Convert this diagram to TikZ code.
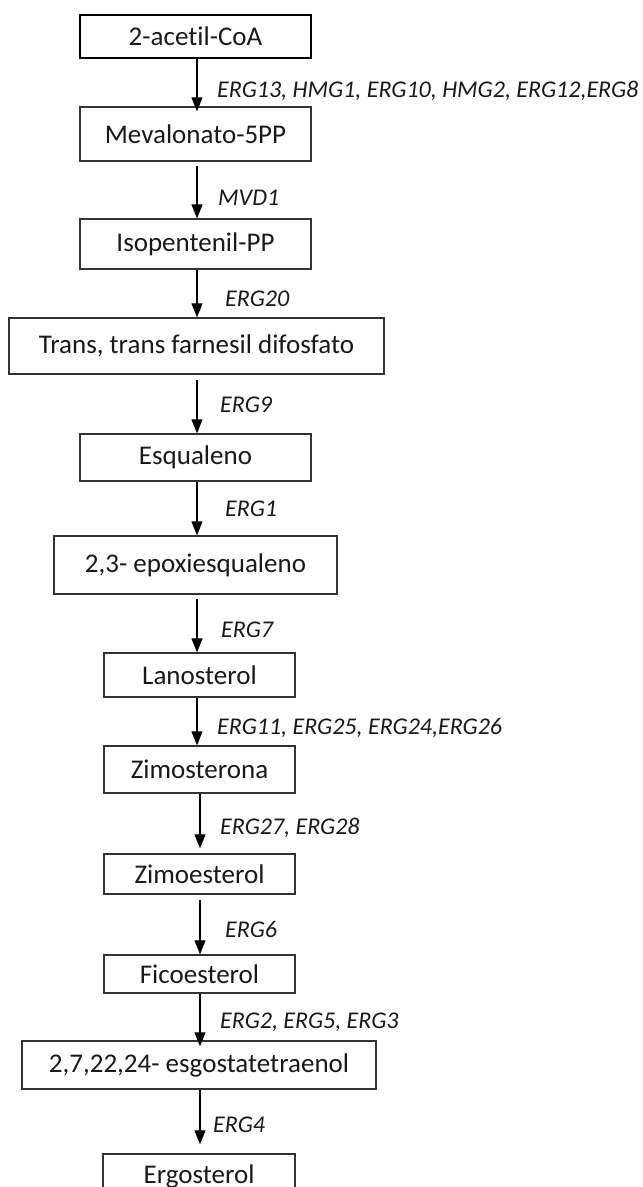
\documentclass[tikz,border=0pt]{standalone}
\usepackage{fontspec}
\setmainfont{Carlito}[Ligatures=NoCommon]
\usetikzlibrary{arrows.meta}
\begin{document}
\begin{tikzpicture}[x=1pt,y=-1pt,
  box/.style={draw=black!80, line width=1.3pt, minimum width=231pt, inner sep=0pt,
    font=\fontsize{27}{30}\selectfont, text=black!90},
  lab/.style={anchor=base west, inner sep=0pt,
    font=\fontsize{24}{27}\selectfont\itshape, text=black!90},
  arr/.style={-{Triangle[width=11pt,length=14pt]}, line width=1.1pt}]
\useasboundingbox (0,0) rectangle (643,1187);
\coordinate (xa) at (197,0);
\coordinate (xb) at (200,0);
% boxes
\node[box, draw=black, line width=2.2pt, minimum height=43pt] (b1) at (195.5,36.5) {2-acetil-CoA};
\node[box, minimum height=54pt] (b2) at (195.5,134) {Mevalonato-5PP};
\node[box, minimum height=50pt] (b3) at (195.5,244) {Isopentenil-PP};
\node[box, minimum width=375pt, minimum height=56pt] (b4) at (196.5,346) {Trans, trans farnesil difosfato};
\node[box, minimum height=47pt] (b5) at (195.5,457.5) {Esqualeno};
\node[box, minimum width=283pt, minimum height=58pt] (b6) at (195.5,565) {2,3- epoxiesqualeno};
\node[box, minimum width=191pt, minimum height=44pt] (b7) at (199.5,675) {Lanosterol};
\node[box, minimum width=191pt, minimum height=47pt] (b8) at (199.5,769.5) {Zimosterona};
\node[box, minimum width=191pt, minimum height=40pt] (b9) at (199.5,874) {Zimoesterol};
\node[box, minimum width=191pt, minimum height=38pt] (b10) at (199.5,974) {Ficoesterol};
\node[box, minimum width=354pt, minimum height=48pt] (b11) at (199,1065) {2,7,22,24- esgostatetraenol};
\node[box, minimum width=192pt, minimum height=44pt] (b12) at (199,1176) {Ergosterol};
% arrows
\draw[arr, shorten >=-5pt] (b1.south -| xa) -- (b2.north -| xa);
\draw[arr, shorten <=4pt] (b2.south -| xa) -- (b3.north -| xa);
\draw[arr] (b3.south -| xa) -- (b4.north -| xa);
\draw[arr, shorten <=5pt] (b4.south -| xa) -- (b5.north -| xa);
\draw[arr] (b5.south -| xa) -- (b6.north -| xa);
\draw[arr, shorten <=4pt] (b6.south -| xa) -- (b7.north -| xa);
\draw[arr] (b7.south -| xa) -- (b8.north -| xa);
\draw[arr, shorten >=5pt] (b8.south -| xb) -- (b9.north -| xb);
\draw[arr, shorten <=5pt] (b9.south -| xb) -- (b10.north -| xb);
\draw[arr, shorten >=-6pt] (b10.south -| xb) -- (b11.north -| xb);
\draw[arr, shorten >=9pt] (b11.south -| xb) -- (b12.north -| xb);
% labels
\node[lab] (l1) at (217,97) {ERG13, HMG1, ERG10, HMG2, ERG12,ERG8};
\node[lab] (l2) at (218,205) {MVD1};
\node[lab] (l3) at (225,306) {ERG20};
\node[lab] (l4) at (220,412) {ERG9};
\node[lab] (l5) at (225,516) {ERG1};
\node[lab] (l6) at (221,637) {ERG7};
\node[lab] (l7) at (217,734) {ERG11, ERG25, ERG24,ERG26};
\node[lab] (l8) at (220,834) {ERG27, ERG28};
\node[lab] (l9) at (225,937) {ERG6};
\node[lab] (l10) at (220,1028) {ERG2, ERG5, ERG3};
\node[lab] (l11) at (213,1132) {ERG4};
\end{tikzpicture}
\end{document}
